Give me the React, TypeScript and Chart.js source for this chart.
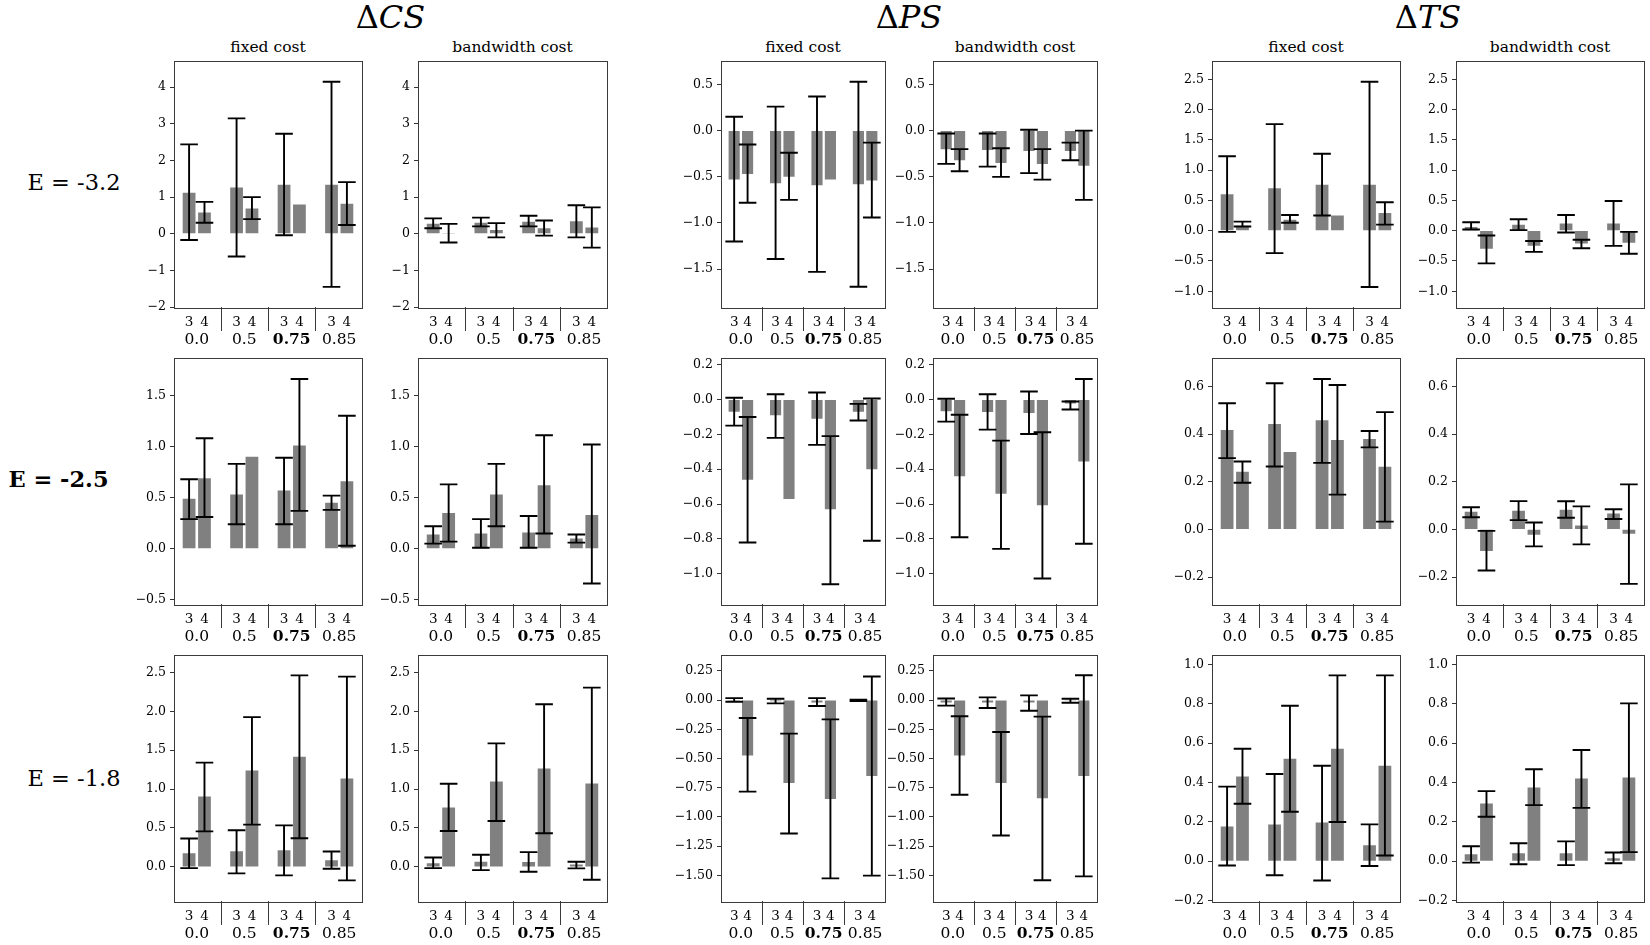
import React, { useEffect, useRef } from "react";
import { Chart, registerables } from "chart.js";

Chart.register(...registerables);

const FONT = "'DejaVu Serif', serif";

// ---------- labels ----------
const groupLabels = ["0.0", "0.5", "0.75", "0.85"];
const boldGroup = "0.75";
const barLabels = ["3", "4"];
const rowLabels = ["E = -3.2", "E = -2.5", "E = -1.8"];
const boldRow = 1;
const metricNames = ["CS", "PS", "TS"];
const costTitles = ["fixed cost", "bandwidth cost"];

// ---------- data (bar order: g0-3, g0-4, g1-3, g1-4, ...) ----------
// Row 1 : E = -3.2
const csFix1 = [1.12, 0.58, 1.26, 0.69, 1.34, 0.8, 1.34, 0.82];
const csFix1Lo = [-0.17, 0.3, -0.62, 0.4, -0.04, null, -1.45, 0.24];
const csFix1Hi = [2.44, 0.87, 3.15, 1.0, 2.73, null, 4.15, 1.41];
const csBw1 = [0.27, 0.01, 0.3, 0.1, 0.33, 0.15, 0.34, 0.17];
const csBw1Lo = [0.15, -0.24, 0.2, -0.1, 0.2, -0.05, -0.1, -0.38];
const csBw1Hi = [0.42, 0.27, 0.44, 0.29, 0.49, 0.36, 0.78, 0.72];
const psFix1 = [-0.53, -0.47, -0.57, -0.5, -0.59, -0.53, -0.58, -0.54];
const psFix1Lo = [-1.2, -0.78, -1.39, -0.75, -1.53, null, -1.69, -0.94];
const psFix1Hi = [0.15, -0.15, 0.26, -0.24, 0.37, null, 0.53, -0.13];
const psBw1 = [-0.2, -0.32, -0.21, -0.35, -0.22, -0.36, -0.22, -0.38];
const psBw1Lo = [-0.36, -0.44, -0.39, -0.5, -0.46, -0.53, -0.32, -0.75];
const psBw1Hi = [-0.03, -0.2, -0.03, -0.19, 0.01, -0.2, -0.13, 0.0];
const tsFix1 = [0.6, 0.08, 0.7, 0.18, 0.76, 0.25, 0.76, 0.29];
const tsFix1Lo = [-0.02, 0.07, -0.37, 0.13, 0.25, null, -0.93, 0.1];
const tsFix1Hi = [1.23, 0.15, 1.76, 0.26, 1.27, null, 2.46, 0.47];
const tsBw1 = [0.06, -0.3, 0.1, -0.25, 0.12, -0.21, 0.12, -0.2];
const tsBw1Lo = [0.02, -0.54, 0.01, -0.35, -0.03, -0.29, -0.25, -0.38];
const tsBw1Hi = [0.14, -0.08, 0.19, -0.17, 0.26, -0.15, 0.49, -0.02];

// Row 2 : E = -2.5
const csFix2 = [0.49, 0.69, 0.53, 0.9, 0.57, 1.01, 0.45, 0.66];
const csFix2Lo = [0.29, 0.31, 0.24, null, 0.24, 0.37, 0.38, 0.03];
const csFix2Hi = [0.68, 1.08, 0.83, null, 0.89, 1.66, 0.52, 1.3];
const csBw2 = [0.14, 0.35, 0.15, 0.53, 0.16, 0.62, 0.1, 0.33];
const csBw2Lo = [0.05, 0.07, 0.01, 0.22, 0.01, 0.15, 0.06, -0.34];
const csBw2Hi = [0.22, 0.63, 0.29, 0.83, 0.32, 1.11, 0.14, 1.02];
const psFix2 = [-0.07, -0.46, -0.09, -0.57, -0.11, -0.63, -0.07, -0.4];
const psFix2Lo = [-0.15, -0.82, -0.22, null, -0.26, -1.06, -0.12, -0.81];
const psFix2Hi = [0.01, -0.1, 0.03, null, 0.04, -0.21, -0.025, 0.006];
const psBw2 = [-0.067, -0.44, -0.072, -0.54, -0.078, -0.606, -0.023, -0.356];
const psBw2Lo = [-0.127, -0.79, -0.173, -0.857, -0.198, -1.027, -0.057, -0.827];
const psBw2Hi = [0.004, -0.087, 0.03, -0.236, 0.046, -0.188, -0.011, 0.118];
const tsFix2 = [0.417, 0.242, 0.442, 0.325, 0.458, 0.375, 0.379, 0.263];
const tsFix2Lo = [0.299, 0.196, 0.264, null, 0.279, 0.146, 0.344, 0.033];
const tsFix2Hi = [0.529, 0.285, 0.613, null, 0.631, 0.606, 0.413, 0.492];
const tsBw2 = [0.074, -0.09, 0.078, -0.022, 0.083, 0.017, 0.067, -0.018];
const tsBw2Lo = [0.051, -0.172, 0.039, -0.071, 0.049, -0.0625, 0.044, -0.228];
const tsBw2Hi = [0.093, -0.006, 0.119, 0.029, 0.118, 0.097, 0.085, 0.189];

// Row 3 : E = -1.8
const csFix3 = [0.175, 0.904, 0.2, 1.237, 0.213, 1.416, 0.085, 1.135];
const csFix3Lo = [-0.017, 0.456, -0.085, 0.542, -0.111, 0.367, -0.026, -0.175];
const csFix3Hi = [0.363, 1.34, 0.469, 1.924, 0.533, 2.462, 0.196, 2.445];
const csBw3 = [0.047, 0.764, 0.064, 1.096, 0.06, 1.263, 0.03, 1.071];
const csBw3Lo = [-0.017, 0.461, -0.043, 0.589, -0.064, 0.431, -0.021, -0.166];
const csBw3Hi = [0.119, 1.067, 0.154, 1.587, 0.188, 2.09, 0.064, 2.304];
const psFix3 = [-0.005, -0.474, -0.01, -0.71, -0.02, -0.847, -0.005, -0.65];
const psFix3Lo = [-0.014, -0.784, -0.028, -1.142, -0.051, -1.526, -0.009, -1.503];
const psFix3Hi = [0.017, -0.153, 0.011, -0.287, 0.017, -0.165, 0.003, 0.202];
const psBw3 = [-0.02, -0.474, -0.02, -0.71, -0.02, -0.841, -0.005, -0.65];
const psBw3Lo = [-0.048, -0.81, -0.068, -1.159, -0.091, -1.543, -0.023, -1.509];
const psBw3Hi = [0.014, -0.139, 0.023, -0.273, 0.04, -0.142, 0.011, 0.213];
const tsFix3 = [0.177, 0.43, 0.187, 0.521, 0.197, 0.571, 0.081, 0.485];
const tsFix3Lo = [-0.022, 0.292, -0.071, 0.251, -0.098, 0.199, -0.024, 0.029];
const tsFix3Hi = [0.379, 0.571, 0.443, 0.79, 0.485, 0.944, 0.187, 0.944];
const tsBw3 = [0.035, 0.293, 0.04, 0.374, 0.04, 0.42, 0.015, 0.425];
const tsBw3Lo = [-0.007, 0.226, -0.015, 0.285, -0.02, 0.271, -0.01, 0.046];
const tsBw3Hi = [0.076, 0.356, 0.091, 0.467, 0.101, 0.565, 0.044, 0.802];

// ---------- y axes (per row, per metric) ----------
const csRange1 = [-2, 4.73];
const csTicks1 = [-2, -1, 0, 1, 2, 3, 4];
const csTickLabels1 = ["−2", "−1", "0", "1", "2", "3", "4"];
const psRange1 = [-1.91, 0.76];
const psTicks1 = [-1.5, -1.0, -0.5, 0.0, 0.5];
const psTickLabels1 = ["−1.5", "−1.0", "−0.5", "0.0", "0.5"];
const tsRange1 = [-1.26, 2.81];
const tsTicks1 = [-1.0, -0.5, 0.0, 0.5, 1.0, 1.5, 2.0, 2.5];
const tsTickLabels1 = ["−1.0", "−0.5", "0.0", "0.5", "1.0", "1.5", "2.0", "2.5"];

const csRange2 = [-0.54, 1.87];
const csTicks2 = [-0.5, 0.0, 0.5, 1.0, 1.5];
const csTickLabels2 = ["−0.5", "0.0", "0.5", "1.0", "1.5"];
const psRange2 = [-1.173, 0.241];
const psTicks2 = [-1.0, -0.8, -0.6, -0.4, -0.2, 0.0, 0.2];
const psTickLabels2 = ["−1.0", "−0.8", "−0.6", "−0.4", "−0.2", "0.0", "0.2"];
const tsRange2 = [-0.3125, 0.721];
const tsTicks2 = [-0.2, 0.0, 0.2, 0.4, 0.6];
const tsTickLabels2 = ["−0.2", "0.0", "0.2", "0.4", "0.6"];

const csRange3 = [-0.44, 2.73];
const csTicks3 = [0.0, 0.5, 1.0, 1.5, 2.0, 2.5];
const csTickLabels3 = ["0.0", "0.5", "1.0", "1.5", "2.0", "2.5"];
const psRange3 = [-1.72, 0.39];
const psTicks3 = [-1.5, -1.25, -1.0, -0.75, -0.5, -0.25, 0.0, 0.25];
const psTickLabels3 = ["−1.50", "−1.25", "−1.00", "−0.75", "−0.50", "−0.25", "0.00", "0.25"];
const tsRange3 = [-0.202, 1.05];
const tsTicks3 = [-0.2, 0.0, 0.2, 0.4, 0.6, 0.8, 1.0];
const tsTickLabels3 = ["−0.2", "0.0", "0.2", "0.4", "0.6", "0.8", "1.0"];

// ---------- layout constants ----------
const COL_LEFT = [174, 418, 721, 933, 1212, 1456];
const COL_WIDTH = [188, 189, 164, 164, 188, 188];
const ROW_TOP = [59, 356, 653];
const PLOT_H = 248;
const Y_W = 60;
const PAD_T = 10;
const PAD_R = 4;
const PAD_B = 52;
const X_MIN = -0.48;
const X_MAX = 3.48;
const OFF = 0.162;
const CAP = 8.8;

type Spec = {
  values: number[];
  lo: (number | null)[];
  hi: (number | null)[];
  range: number[];
  ticks: number[];
  tickLabels: string[];
};

const mk = (values: number[], lo: (number | null)[], hi: (number | null)[], range: number[], ticks: number[], tickLabels: string[]): Spec => ({ values, lo, hi, range, ticks, tickLabels });

const PANELS: Spec[][] = [
  [
    mk(csFix1, csFix1Lo, csFix1Hi, csRange1, csTicks1, csTickLabels1),
    mk(csBw1, csBw1Lo, csBw1Hi, csRange1, csTicks1, csTickLabels1),
    mk(psFix1, psFix1Lo, psFix1Hi, psRange1, psTicks1, psTickLabels1),
    mk(psBw1, psBw1Lo, psBw1Hi, psRange1, psTicks1, psTickLabels1),
    mk(tsFix1, tsFix1Lo, tsFix1Hi, tsRange1, tsTicks1, tsTickLabels1),
    mk(tsBw1, tsBw1Lo, tsBw1Hi, tsRange1, tsTicks1, tsTickLabels1),
  ],
  [
    mk(csFix2, csFix2Lo, csFix2Hi, csRange2, csTicks2, csTickLabels2),
    mk(csBw2, csBw2Lo, csBw2Hi, csRange2, csTicks2, csTickLabels2),
    mk(psFix2, psFix2Lo, psFix2Hi, psRange2, psTicks2, psTickLabels2),
    mk(psBw2, psBw2Lo, psBw2Hi, psRange2, psTicks2, psTickLabels2),
    mk(tsFix2, tsFix2Lo, tsFix2Hi, tsRange2, tsTicks2, tsTickLabels2),
    mk(tsBw2, tsBw2Lo, tsBw2Hi, tsRange2, tsTicks2, tsTickLabels2),
  ],
  [
    mk(csFix3, csFix3Lo, csFix3Hi, csRange3, csTicks3, csTickLabels3),
    mk(csBw3, csBw3Lo, csBw3Hi, csRange3, csTicks3, csTickLabels3),
    mk(psFix3, psFix3Lo, psFix3Hi, psRange3, psTicks3, psTickLabels3),
    mk(psBw3, psBw3Lo, psBw3Hi, psRange3, psTicks3, psTickLabels3),
    mk(tsFix3, tsFix3Lo, tsFix3Hi, tsRange3, tsTicks3, tsTickLabels3),
    mk(tsBw3, tsBw3Lo, tsBw3Hi, tsRange3, tsTicks3, tsTickLabels3),
  ],
];

const xPos = (i: number) => Math.floor(i / 2) + (i % 2 === 0 ? -OFF : OFF);

function Panel({ left, top, width, spec }: { left: number; top: number; width: number; spec: Spec }) {
  const ref = useRef<HTMLCanvasElement>(null);
  const cw = width + Y_W + PAD_R;
  const ch = PLOT_H + PAD_T + PAD_B;

  useEffect(() => {
    if (!ref.current) return;
    const errPlugin = {
      id: "errbars",
      afterDatasetsDraw(chart: any) {
        const { ctx } = chart;
        const xs = chart.scales.x;
        const ys = chart.scales.y;
        ctx.save();
        ctx.strokeStyle = "#000";
        ctx.lineWidth = 1.9;
        spec.values.forEach((_v, i) => {
          const lo = spec.lo[i];
          const hi = spec.hi[i];
          if (lo == null || hi == null) return;
          const px = xs.getPixelForValue(xPos(i));
          const p1 = ys.getPixelForValue(lo);
          const p2 = ys.getPixelForValue(hi);
          ctx.beginPath();
          ctx.moveTo(px, p1);
          ctx.lineTo(px, p2);
          ctx.moveTo(px - CAP, p1);
          ctx.lineTo(px + CAP, p1);
          ctx.moveTo(px - CAP, p2);
          ctx.lineTo(px + CAP, p2);
          ctx.stroke();
        });
        ctx.restore();
      },
    };
    const axisPlugin = {
      id: "groupaxis",
      afterDraw(chart: any) {
        const { ctx, chartArea } = chart;
        const xs = chart.scales.x;
        const { left: l, right: r, top: t, bottom: b } = chartArea;
        ctx.save();
        ctx.strokeStyle = "#3a3a3a";
        ctx.lineWidth = 1;
        ctx.strokeRect(Math.round(l) + 0.5, Math.round(t) + 0.5, Math.round(r - l), Math.round(b - t));
        // separators
        for (let g = 0; g < groupLabels.length - 1; g++) {
          const px = Math.round(xs.getPixelForValue(g + 0.5)) + 0.5;
          ctx.beginPath();
          ctx.moveTo(px, b);
          ctx.lineTo(px, b + 24);
          ctx.stroke();
        }
        ctx.fillStyle = "#000";
        ctx.textAlign = "center";
        ctx.textBaseline = "middle";
        ctx.font = `13.5px ${FONT}`;
        spec.values.forEach((_v, i) => {
          ctx.fillText(barLabels[i % 2], xs.getPixelForValue(xPos(i)), b + 15);
        });
        groupLabels.forEach((g, gi) => {
          ctx.font = `${g === boldGroup ? "bold " : ""}15.5px ${FONT}`;
          ctx.fillText(g, xs.getPixelForValue(gi), b + 32.5);
        });
        ctx.restore();
      },
    };

    const chart = new Chart(ref.current, {
      type: "bar",
      data: {
        datasets: [
          {
            data: spec.values.map((v, i) => ({ x: xPos(i), y: v })),
            backgroundColor: "#808080",
            borderWidth: 0,
            categoryPercentage: 1,
            barPercentage: 0.83,
          } as any,
        ],
      },
      options: {
        animation: false,
        responsive: false,
        maintainAspectRatio: false,
        events: [],
        layout: { padding: { left: 0, top: PAD_T, right: PAD_R, bottom: PAD_B } },
        plugins: { legend: { display: false }, tooltip: { enabled: false }, title: { display: false } },
        scales: {
          x: {
            type: "linear",
            min: X_MIN,
            max: X_MAX,
            offset: false,
            display: false,
            bounds: "ticks",
            ticks: { stepSize: 1 },
            grid: { offset: false },
          },
          y: {
            type: "linear",
            min: spec.range[0],
            max: spec.range[1],
            afterFit: (s: any) => {
              s.width = Y_W;
            },
            afterBuildTicks: (s: any) => {
              s.ticks = spec.ticks.map((v) => ({ value: v }));
            },
            ticks: {
              autoSkip: false,
              padding: 4,
              color: "#000",
              font: { family: FONT, size: 12.5 },
              callback: (_v: any, i: number) => spec.tickLabels[i],
            },
            grid: { display: true, drawOnChartArea: false, drawTicks: true, tickLength: 4, color: "#000", lineWidth: 0.8 },
            border: { display: false },
          },
        },
      } as any,
      plugins: [errPlugin, axisPlugin],
    });
    return () => chart.destroy();
  }, [spec]);

  return (
    <canvas
      ref={ref}
      width={cw}
      height={ch}
      style={{ position: "absolute", left: left - Y_W, top: top - PAD_T, width: cw, height: ch }}
    />
  );
}

const textBase: React.CSSProperties = {
  position: "absolute",
  fontFamily: FONT,
  lineHeight: 1,
  whiteSpace: "nowrap",
  color: "#000",
  transform: "translateX(-50%)",
};

export default function App() {
  const metricCenters = [0, 1, 2].map((m) => (COL_LEFT[2 * m] + COL_LEFT[2 * m + 1] + COL_WIDTH[2 * m + 1]) / 2);
  const rowLabelX = [74, 58.5, 74];
  const rowBaseline = [190, 487.3, 786];
  return (
    <div style={{ position: "absolute", left: 0, top: 0, width: 1650, height: 945, background: "#fff", overflow: "hidden" }}>
      {metricNames.map((m, mi) => (
        <div key={m} style={{ ...textBase, left: metricCenters[mi], top: 28.5 - 0.846 * 32, fontSize: 32 }}>
          Δ<i>{m}</i>
        </div>
      ))}
      {COL_LEFT.map((l, ci) => (
        <div key={"t" + ci} style={{ ...textBase, left: l + COL_WIDTH[ci] / 2, top: 53 - 0.846 * 15.5, fontSize: 15.5 }}>
          {costTitles[ci % 2]}
        </div>
      ))}
      {rowLabels.map((r, ri) => (
        <div
          key={r}
          style={{
            ...textBase,
            left: rowLabelX[ri],
            top: rowBaseline[ri] - 0.846 * 22.5,
            fontSize: 22.5,
            fontWeight: ri === boldRow ? "bold" : "normal",
          }}
        >
          {r}
        </div>
      ))}
      {PANELS.map((row, ri) =>
        row.map((spec, ci) => (
          <Panel key={`${ri}-${ci}`} left={COL_LEFT[ci]} top={ROW_TOP[ri]} width={COL_WIDTH[ci]} spec={spec} />
        ))
      )}
    </div>
  );
}
